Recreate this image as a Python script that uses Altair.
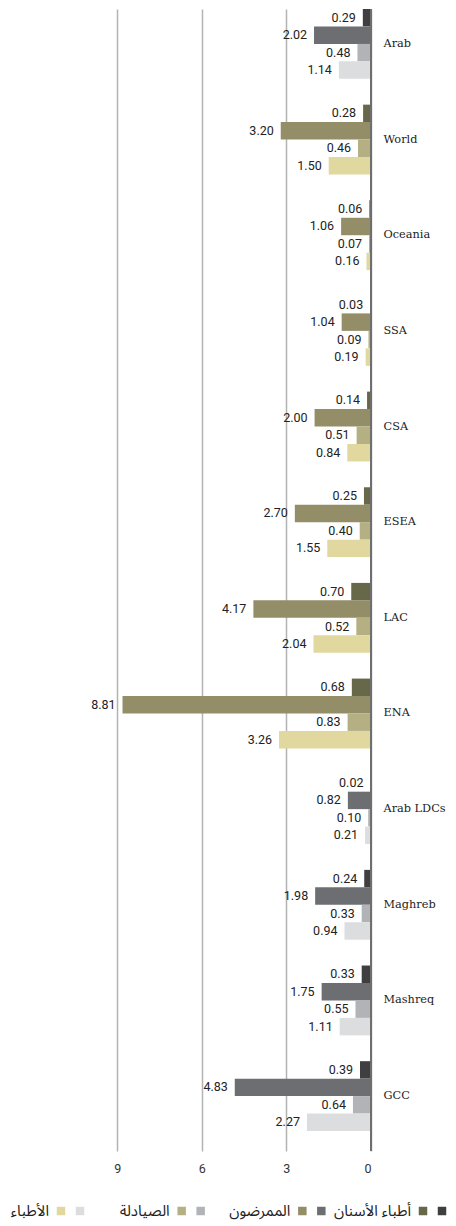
import altair as alt
import pandas as pd

regions = ["Arab", "World", "Oceania", "SSA", "CSA", "ESEA", "LAC", "ENA",
           "Arab LDCs", "Maghreb", "Mashreq", "GCC"]
arab_regions = ["Arab", "Arab LDCs", "Maghreb", "Mashreq", "GCC"]
metrics = ["dentists", "nurses", "pharmacists", "physicians"]
metric_labels = ["أطباء الأسنان", "الممرضون", "الصيادلة", "الأطباء"]

dentists = [0.29, 0.28, 0.06, 0.03, 0.14, 0.25, 0.70, 0.68, 0.02, 0.24, 0.33, 0.39]
nurses = [2.02, 3.20, 1.06, 1.04, 2.00, 2.70, 4.17, 8.81, 0.82, 1.98, 1.75, 4.83]
pharmacists = [0.48, 0.46, 0.07, 0.09, 0.51, 0.40, 0.52, 0.83, 0.10, 0.33, 0.55, 0.64]
physicians = [1.14, 1.50, 0.16, 0.19, 0.84, 1.55, 2.04, 3.26, 0.21, 0.94, 1.11, 2.27]

tick_values = [0, 3, 6, 9]

# colour keys: metric + group
color_keys = [m + "_arab" for m in metrics] + [m + "_world" for m in metrics]
color_range = ["#3f3f41", "#6d6e71", "#b1b3b6", "#dcdddf",
               "#67674a", "#938d68", "#b4b083", "#e0d89f"]
color_scale = alt.Scale(domain=color_keys, range=color_range)

series = {"dentists": dentists, "nurses": nurses,
          "pharmacists": pharmacists, "physicians": physicians}
rows = []
for i, r in enumerate(regions):
    grp = "arab" if r in arab_regions else "world"
    for m in metrics:
        rows.append({"region": r, "metric": m, "value": series[m][i],
                     "key": m + "_" + grp})
df = pd.DataFrame(rows)

SERIF = "Roboto Slab, DejaVu Serif"
SANS = "Roboto"

base = alt.Chart(df).encode(
    y=alt.Y("region:N", sort=regions, title=None,
            scale=alt.Scale(paddingInner=0.27, paddingOuter=0.1045, align=0),
            axis=alt.Axis(orient="right", domain=False, ticks=False,
                          labelPadding=12, labelAlign="left",
                          labelFont=SERIF, labelFontSize=11.3,
                          labelColor="#222222", grid=False)),
    yOffset=alt.YOffset("metric:N", sort=metrics,
                        scale=alt.Scale(paddingInner=0, paddingOuter=0)),
    x=alt.X("value:Q", title=None,
            scale=alt.Scale(domain=[0, 12.87], reverse=True, nice=False),
            axis=alt.Axis(values=tick_values, domain=False, ticks=False,
                          tickSize=0, labelPadding=11, format="d",
                          labelFont=SANS, labelFontSize=12.5,
                          labelColor="#333333", grid=True,
                          gridColor="#b3b3b3", gridWidth=1.5)),
)

bars = base.mark_bar().encode(
    color=alt.Color("key:N", scale=color_scale, legend=None)
)
labels = base.mark_text(align="right", baseline="middle", dx=-7,
                        font=SANS, fontSize=12.5, color="#222222").encode(
    text=alt.Text("value:Q", format=".2f")
)
zero = alt.Chart(df).mark_rule(color="#6f6f6f", strokeWidth=1.3).encode(
    x=alt.datum(0)
)

main = alt.layer(bars, zero, labels).properties(width=363, height=1142)

# custom legend (right-to-left order)
legend_order = ["physicians", "pharmacists", "nurses", "dentists"]
leg_df = pd.DataFrame({"metric": metrics, "label": metric_labels})
leg_base = alt.Chart(leg_df).encode(
    x=alt.X("metric:N", sort=legend_order,
            scale=alt.Scale(type="point", padding=0), axis=None),
    y=alt.value(8),
)
grey_sq = leg_base.transform_calculate(key="datum.metric + '_arab'").mark_square(
    size=72, opacity=1, xOffset=72).encode(
    color=alt.Color("key:N", scale=color_scale, legend=None))
olive_sq = leg_base.transform_calculate(key="datum.metric + '_world'").mark_square(
    size=72, opacity=1, xOffset=53).encode(
    color=alt.Color("key:N", scale=color_scale, legend=None))
leg_text = leg_base.mark_text(align="right", baseline="middle", dx=41,
                              font="Noto Sans Arabic, DejaVu Sans",
                              fontSize=15, color="#222222").encode(
    text="label:N")
legend = alt.layer(grey_sq, olive_sq, leg_text).properties(width=362, height=16)

chart = alt.vconcat(main, legend, spacing=28).properties(
    padding={"left": 0, "top": 0, "right": 0, "bottom": 5}
).configure_view(stroke=None)

chart.save("out.html", embed_options={"renderer": "svg", "actions": False})
